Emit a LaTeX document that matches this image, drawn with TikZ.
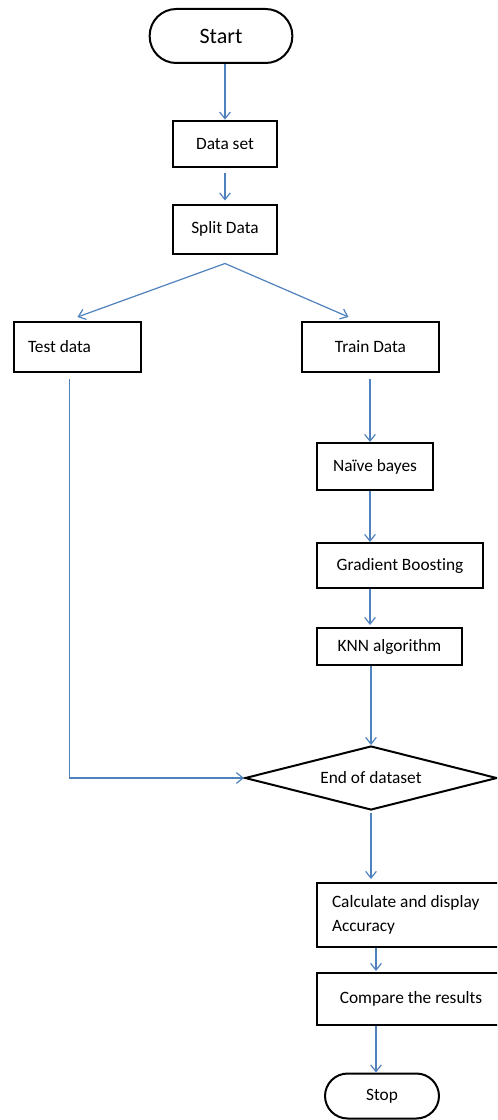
\documentclass[tikz,border=0pt]{standalone}
\usepackage{fontspec}
\setmainfont{Carlito}[Ligatures=NoCommon]
\usetikzlibrary{arrows.meta,shapes.geometric,calc}
\definecolor{flowblue}{RGB}{79,129,189}
\tikzset{
  box/.style={draw,line width=1.5pt,inner sep=2pt,font=\fontsize{13}{18.5}\selectfont},
  term/.style={box,rounded corners=17pt},
  flow/.style={draw=flowblue,line width=0.9pt,-{Straight Barb[length=5pt,width=8pt]}}
}
\begin{document}
\begin{tikzpicture}[x=0.75pt,y=-0.75pt]
\clip (0,0) rectangle (497,1120);
\node[term,minimum width=107pt,minimum height=40.5pt,rounded corners=20pt,font=\fontsize{16.5}{20}\selectfont] (start) at (221,36) {Start};
\node[box,minimum width=78pt,minimum height=35pt] (dataset) at (225,144) {Data set};
\node[box,minimum width=78pt,minimum height=36.75pt] (split) at (225,229) {Split Data};
\node[box,minimum width=95.25pt,minimum height=37.5pt,inner xsep=10.5pt,text width=74.25pt,align=flush left] (test) at (77.5,347) {Test data};
\node[box,minimum width=102.75pt,minimum height=37.5pt] (train) at (370.5,347) {Train Data};
\node[box,minimum width=87pt,minimum height=35.25pt] (naive) at (375,466.5) {Naïve bayes};
\node[box,minimum width=124.5pt,minimum height=33.75pt] (gradient) at (400,565.5) {Gradient Boosting};
\node[box,minimum width=108.75pt,minimum height=27.75pt] (knn) at (389.5,646.5) {KNN algorithm};
\node[box,diamond,aspect=4,inner sep=0pt,minimum width=189pt,minimum height=48pt] (diamond) at (371,778) {End of dataset};
\node[box,minimum width=141pt,minimum height=48pt,inner xsep=11.25pt,text width=118.5pt,align=flush left] (calc) at (411,915) {Calculate and display\\Accuracy};
\node[box,minimum width=141pt,minimum height=39pt] (compare) at (411,999) {Compare the results};
\node[term,minimum width=85.5pt,minimum height=33.75pt] (stop) at (382,1096) {Stop};
\coordinate (fork) at ($(split.south)+(0,9)$);
\coordinate (colA) at (370,0);
\coordinate (colB) at (376,0);
\draw[flow] (dataset.north |- start.south) -- (dataset.north);
\draw[flow] ($(dataset.south)+(0,5)$) -- ($(split.north)+(0,-3)$);
\draw[flow] (fork) -- ($(test.north)+(0,-4)$);
\draw[flow] (fork) -- ($(train.north)+(-22,-4)$);
\draw[flow] ($(test.south)+(-8,6)$) |- (diamond.west);
\draw[flow] ($(train.south -| colA)+(0,6)$) -- (naive.north -| colA);
\draw[flow] (naive.south -| colA) -- (gradient.north -| colA);
\draw[flow] (gradient.south -| colA) -- ($(knn.north -| colA)+(0,-2)$);
\draw[flow] (knn.south -| diamond.north) -- (diamond.north);
\draw[flow] ($(diamond.south)+(0,2)$) -- ($(calc.north -| diamond.south)+(0,-3)$);
\draw[flow] (calc.south -| colB) -- ($(compare.north -| colB)+(0,-1)$);
\draw[flow] (compare.south -| colB) -- (stop.north -| colB);
\end{tikzpicture}
\end{document}
